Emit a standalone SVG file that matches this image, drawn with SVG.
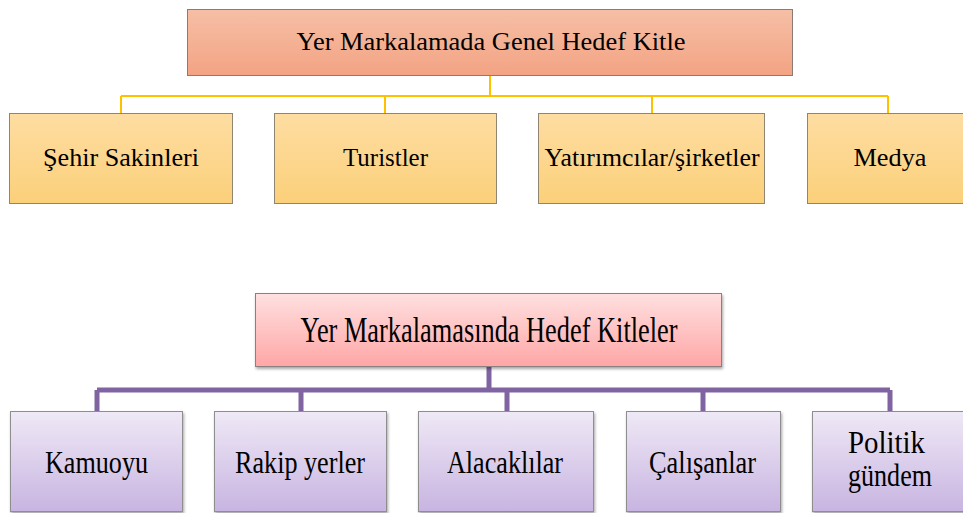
<svg xmlns="http://www.w3.org/2000/svg" width="963" height="513" viewBox="0 0 963 513">
<defs>
<linearGradient id="gTop" x1="0" y1="0" x2="0" y2="1"><stop offset="0" stop-color="#f6bfa6"/><stop offset="1" stop-color="#f3a383"/></linearGradient>
<linearGradient id="gYel" x1="0" y1="0" x2="0" y2="1"><stop offset="0" stop-color="#fedda2"/><stop offset="1" stop-color="#fbd07a"/></linearGradient>
<linearGradient id="gPink" x1="0" y1="0" x2="0" y2="1"><stop offset="0" stop-color="#ffe0e0"/><stop offset="1" stop-color="#ffa6a6"/></linearGradient>
<linearGradient id="gPur" x1="0" y1="0" x2="0" y2="1"><stop offset="0" stop-color="#efe9f6"/><stop offset="1" stop-color="#c8b4e1"/></linearGradient>
<filter id="sh" x="-10%" y="-10%" width="120%" height="130%"><feDropShadow dx="1" dy="2" stdDeviation="1.5" flood-color="#000" flood-opacity="0.35"/></filter>
</defs>
<style>
.t{font-family:"Liberation Serif","Times New Roman",serif;fill:#000;text-anchor:middle}
.top{fill:url(#gTop);stroke:#8c7b72;stroke-width:1}
.yel{fill:url(#gYel);stroke:#8f8571;stroke-width:1}
.pink{fill:url(#gPink);stroke:#8a8080;stroke-width:1;filter:url(#sh)}
.pur{fill:url(#gPur);stroke:#8e8e8e;stroke-width:1;filter:url(#sh)}
.cy{fill:none;stroke:#ffc000;stroke-width:2}
.cp{fill:none;stroke:#8064a2;stroke-width:5}
.f1{font-size:25px}
.f2{font-size:31px}
</style>
<g id="connectors">
<path class="cy" d="M490 76V96M121 96H888M121 96V113M385 96V113M652 96V113M888 96V113"/>
<path class="cp" d="M489 367V390M97 390H890M97 390V411M301 390V411M507 390V411M703 390V411M890 390V411"/>
</g>
<g id="n-top"><rect class="top" x="187.5" y="9.5" width="605" height="66"/><text class="t f1" x="491" y="50" textLength="389" lengthAdjust="spacingAndGlyphs">Yer Markalamada Genel Hedef Kitle</text></g>
<g id="n-sehir"><rect class="yel" x="9.5" y="113.5" width="223" height="90"/><text class="t f1" x="121" y="166" textLength="156" lengthAdjust="spacingAndGlyphs">Şehir Sakinleri</text></g>
<g id="n-turist"><rect class="yel" x="274.5" y="113.5" width="222" height="90"/><text class="t f1" x="385.5" y="166" textLength="85" lengthAdjust="spacingAndGlyphs">Turistler</text></g>
<g id="n-yatirim"><rect class="yel" x="538.5" y="113.5" width="226" height="90"/><text class="t f1" x="652" y="166" textLength="215" lengthAdjust="spacingAndGlyphs">Yatırımcılar/şirketler</text></g>
<g id="n-medya"><rect class="yel" x="807.5" y="113.5" width="165" height="90"/><text class="t f1" x="890" y="166" textLength="73" lengthAdjust="spacingAndGlyphs">Medya</text></g>
<g id="n-bottom"><rect class="pink" x="255.5" y="293.5" width="466" height="73"/><text class="t" style="font-size:36px" x="489" y="342" textLength="377" lengthAdjust="spacingAndGlyphs">Yer Markalamasında Hedef Kitleler</text></g>
<g id="n-kamu"><rect class="pur" x="10.5" y="411.5" width="172" height="100"/><text class="t f2" x="96.5" y="473" textLength="103" lengthAdjust="spacingAndGlyphs">Kamuoyu</text></g>
<g id="n-rakip"><rect class="pur" x="214.5" y="411.5" width="172" height="100"/><text class="t f2" x="300" y="473" textLength="130" lengthAdjust="spacingAndGlyphs">Rakip yerler</text></g>
<g id="n-alacak"><rect class="pur" x="418.5" y="411.5" width="175" height="100"/><text class="t f2" x="505" y="473" textLength="116" lengthAdjust="spacingAndGlyphs">Alacaklılar</text></g>
<g id="n-calis"><rect class="pur" x="626.5" y="411.5" width="154" height="100"/><text class="t f2" x="702.5" y="473" textLength="107" lengthAdjust="spacingAndGlyphs">Çalışanlar</text></g>
<g id="n-politik"><rect class="pur" x="812.5" y="411.5" width="160" height="100"/><text class="t f2" x="886.5" y="453" textLength="77" lengthAdjust="spacingAndGlyphs">Politik</text><text class="t f2" x="890" y="486" textLength="84" lengthAdjust="spacingAndGlyphs">gündem</text></g>
</svg>
